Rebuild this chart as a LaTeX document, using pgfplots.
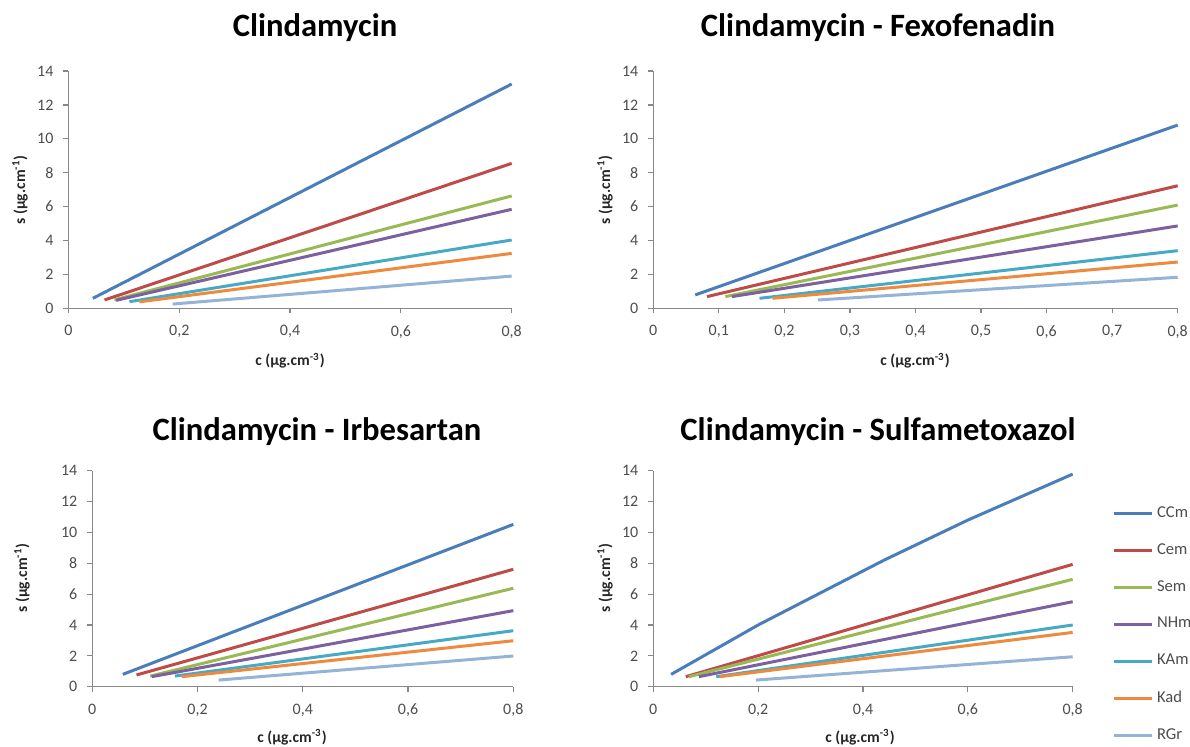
\documentclass[border=0pt]{standalone}
\usepackage{fontspec}
\setmainfont{Carlito}
\usepackage{pgfplots}
\pgfplotsset{compat=1.18}

\definecolor{cCCm}{HTML}{4A7EBB}
\definecolor{cCem}{HTML}{BE4B48}
\definecolor{cSem}{HTML}{98B954}
\definecolor{cNHm}{HTML}{7D60A0}
\definecolor{cKAm}{HTML}{46AAC5}
\definecolor{cKad}{HTML}{EE8A3D}
\definecolor{cRGr}{HTML}{95B3D7}
\definecolor{AxGray}{HTML}{888888}
\definecolor{TxGray}{HTML}{4D4D4D}

\pgfplotsset{
  panel/.style={
    scale only axis,
    axis lines*=left,
    axis line style={AxGray,line width=0.6pt},
    tick style={AxGray,line width=0.6pt},
    tick align=outside,
    major tick length=2.5pt,
    xmin=0, xmax=0.8, ymin=0, ymax=14,
    ytick={0,2,...,14},
    tick label style={font=\fontsize{8}{9}\selectfont,color=TxGray},
    xticklabel style={yshift=-2.5pt},
    yticklabel style={xshift=-1.5pt},
    /pgf/number format/assume math mode=true,
    /pgf/number format/use comma,
    /pgf/number format/fixed,
    every axis plot/.append style={line width=1.5pt,no markers},
    clip=false,
  },
}

\newcommand{\ttl}[1]{\fontsize{16.3}{18}\selectfont\bfseries #1}
\newcommand{\lbl}{\fontsize{7.8}{9}\selectfont\bfseries\color{black!85}}

\begin{document}
\begin{tikzpicture}
\path[use as bounding box] (0,0) rectangle (595pt,373pt);

% --- Clindamycin ---
\begin{axis}[panel, at={(34.25pt,218.85pt)}, anchor=south west,
  width=221.6pt, height=118.65pt, xtick={0,0.2,...,0.8}]
\addplot[cCCm] coordinates {(0.044,0.59) (0.8,13.23)};
\addplot[cCem] coordinates {(0.065,0.49) (0.8,8.55)};
\addplot[cSem] coordinates {(0.083,0.50) (0.8,6.63)};
\addplot[cNHm] coordinates {(0.086,0.47) (0.8,5.84)};
\addplot[cKAm] coordinates {(0.110,0.39) (0.8,4.03)};
\addplot[cKad] coordinates {(0.128,0.38) (0.8,3.24)};
\addplot[cRGr] coordinates {(0.188,0.25) (0.8,1.90)};
\end{axis}

% --- Clindamycin - Fexofenadin ---
\begin{axis}[panel, at={(326.65pt,218.85pt)}, anchor=south west,
  width=262.2pt, height=118.65pt, xtick={0,0.1,...,0.8}]
\addplot[cCCm] coordinates {(0.064,0.79) (0.8,10.81)};
\addplot[cCem] coordinates {(0.082,0.69) (0.8,7.23)};
\addplot[cSem] coordinates {(0.110,0.69) (0.8,6.09)};
\addplot[cNHm] coordinates {(0.120,0.69) (0.8,4.86)};
\addplot[cKAm] coordinates {(0.162,0.59) (0.8,3.40)};
\addplot[cKad] coordinates {(0.182,0.59) (0.8,2.73)};
\addplot[cRGr] coordinates {(0.251,0.49) (0.8,1.83)};
\end{axis}

% --- Clindamycin - Irbesartan ---
\begin{axis}[panel, at={(46.15pt,29.65pt)}, anchor=south west,
  width=210.5pt, height=108pt, xtick={0,0.2,...,0.8}]
\addplot[cCCm] coordinates {(0.058,0.80) (0.8,10.52)};
\addplot[cCem] coordinates {(0.084,0.76) (0.8,7.61)};
\addplot[cSem] coordinates {(0.110,0.69) (0.8,6.38)};
\addplot[cNHm] coordinates {(0.113,0.65) (0.8,4.93)};
\addplot[cKAm] coordinates {(0.157,0.69) (0.8,3.63)};
\addplot[cKad] coordinates {(0.170,0.65) (0.8,2.98)};
\addplot[cRGr] coordinates {(0.240,0.43) (0.8,1.99)};
\end{axis}

% --- Clindamycin - Sulfametoxazol ---
\begin{axis}[panel, at={(326.65pt,29.65pt)}, anchor=south west,
  width=209.7pt, height=108pt, xtick={0,0.2,...,0.8},
  legend style={at={(1.093,0.855)}, anchor=north west, draw=none, fill=none,
    font=\fontsize{8.3}{9}\selectfont, text=TxGray, row sep=7.6pt,
    inner sep=0pt},
  legend cell align=left,
  legend image code/.code={\draw[#1] (0pt,0pt) -- (19pt,0pt);}]
\addplot[cCCm] coordinates {(0.034,0.80) (0.2,4.0) (0.44,8.2) (0.6,10.8) (0.8,13.78)};
\addplot[cCem] coordinates {(0.062,0.65) (0.8,7.93)};
\addplot[cSem] coordinates {(0.068,0.65) (0.8,6.96)};
\addplot[cNHm] coordinates {(0.087,0.65) (0.8,5.51)};
\addplot[cKAm] coordinates {(0.120,0.65) (0.8,4.00)};
\addplot[cKad] coordinates {(0.127,0.65) (0.8,3.52)};
\addplot[cRGr] coordinates {(0.196,0.43) (0.8,1.94)};
\legend{CCm,Cem,Sem,NHm,KAm,Kad,RGr}
\end{axis}

% titles
\node[anchor=base] at (157.5pt,354.5pt) {\ttl{Clindamycin}};
\node[anchor=base] at (439pt,354.5pt) {\ttl{Clindamycin - Fexofenadin}};
\node[anchor=base] at (158.5pt,153pt) {\ttl{Clindamycin - Irbesartan}};
\node[anchor=base] at (439pt,153pt) {\ttl{Clindamycin - Sulfametoxazol}};

% axis labels
\node[anchor=base] at (145pt,190pt) {\lbl c (µg.cm\textsuperscript{-3})};
\node[anchor=base] at (457.5pt,190pt) {\lbl c (µg.cm\textsuperscript{-3})};
\node[anchor=base] at (146pt,2pt) {\lbl c (µg.cm\textsuperscript{-3})};
\node[anchor=base] at (430pt,2pt) {\lbl c (µg.cm\textsuperscript{-3})};
\node[rotate=90] at (10pt,278pt) {\lbl s (µg.cm\textsuperscript{-1})};
\node[rotate=90] at (302.5pt,278pt) {\lbl s (µg.cm\textsuperscript{-1})};
\node[rotate=90] at (11pt,84pt) {\lbl s (µg.cm\textsuperscript{-1})};
\node[rotate=90] at (302.5pt,84pt) {\lbl s (µg.cm\textsuperscript{-1})};
\end{tikzpicture}
\end{document}
